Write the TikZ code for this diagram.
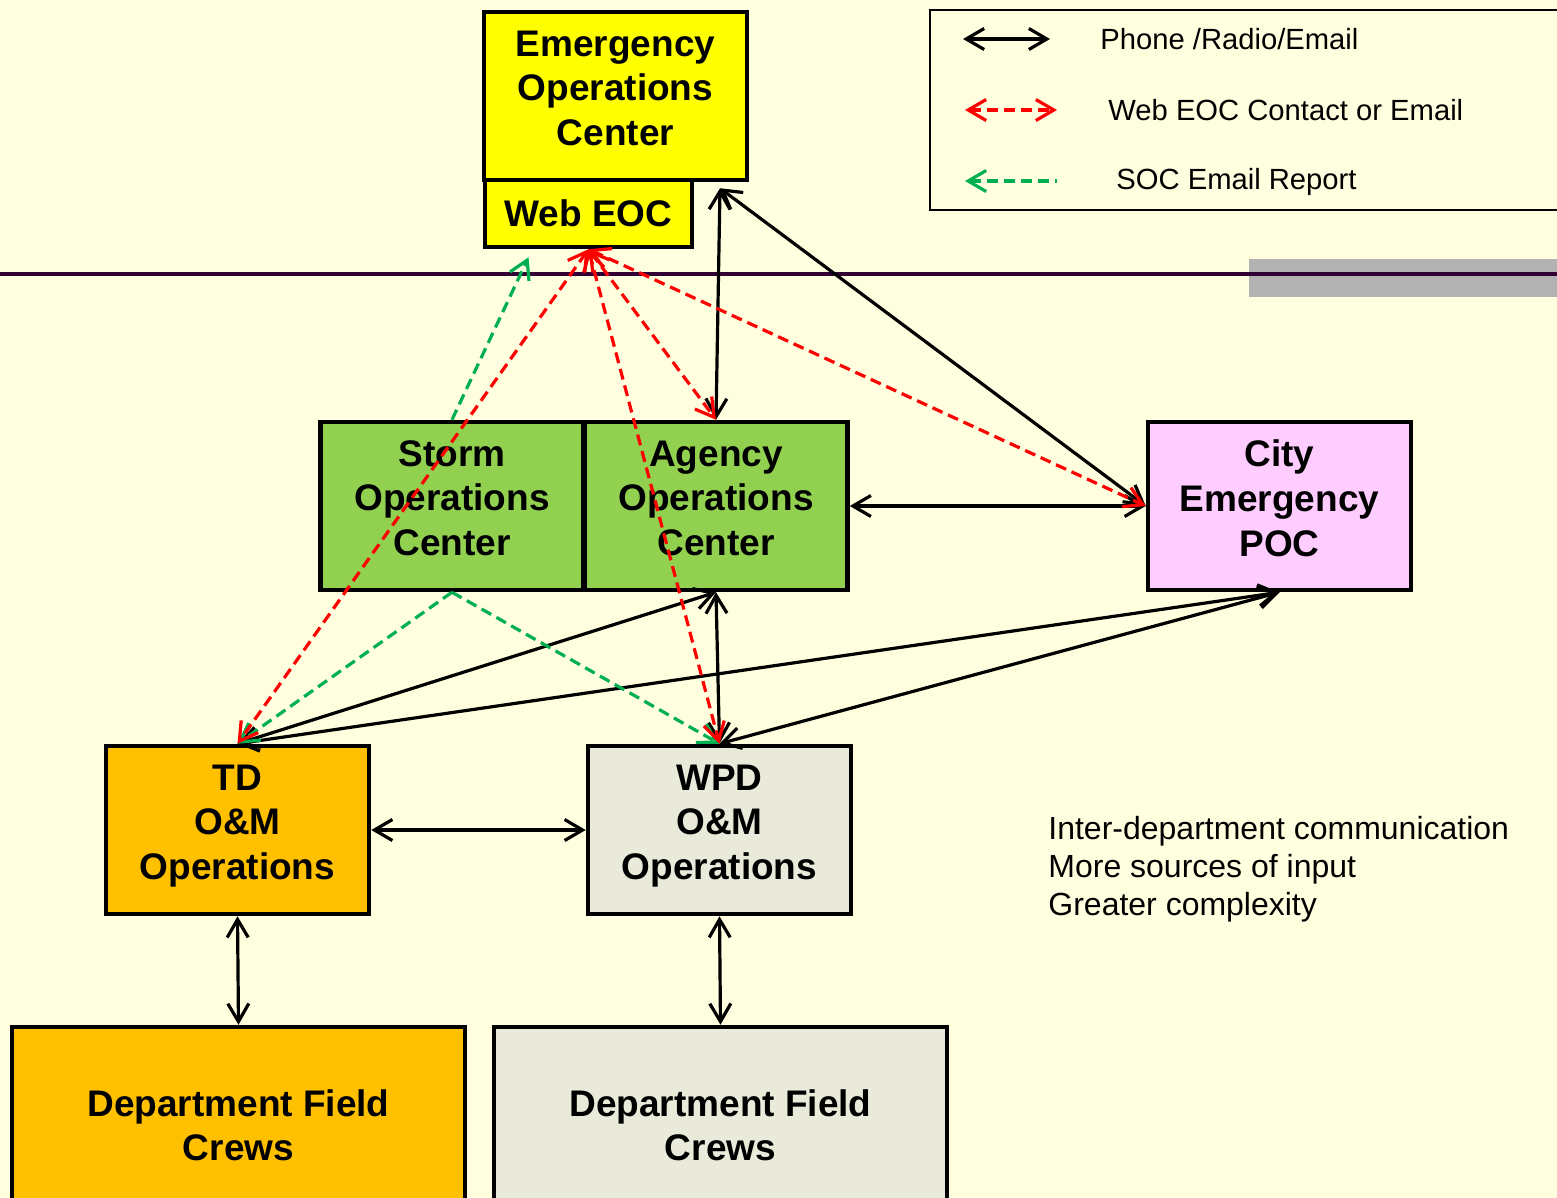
\documentclass[tikz,border=0pt]{standalone}
\usepackage{fontspec}
\setmainfont{Liberation Sans}
\usetikzlibrary{arrows.meta,calc}

\definecolor{bgyellow}{HTML}{FFFFE0}
\definecolor{eocyellow}{HTML}{FFFF00}
\definecolor{opsgreen}{HTML}{92D050}
\definecolor{citypink}{HTML}{FFCCFF}
\definecolor{tdorange}{HTML}{FFC000}
\definecolor{wpdgrey}{HTML}{EAEADA}
\definecolor{webred}{HTML}{FF0000}
\definecolor{socgreen}{HTML}{00B050}
\definecolor{rulepurple}{HTML}{330033}
\definecolor{bargrey}{HTML}{B2B2B2}

\tikzset{
  unit/.style={draw=black, line width=2.25pt, align=center, inner sep=0pt,
    minimum width=131.5pt, minimum height=84pt, text depth=8pt,
    font=\fontsize{18.5}{22.3}\selectfont\bfseries},
  crews/.style={unit, minimum width=226.5pt, minimum height=106pt},
  phone/.style={draw=black, line width=1.6pt},
  webeoc/.style={draw=webred, line width=1.6pt, dash pattern=on 5.5pt off 3pt},
  socreport/.style={draw=socgreen, line width=1.6pt, dash pattern=on 5.5pt off 3pt},
  legendtext/.style={anchor=west, inner sep=0pt, font=\fontsize{14.6}{17.5}\selectfont}
}

\begin{document}
\begin{tikzpicture}[x=0.5pt, y=-0.5pt, >={Straight Barb[length=9pt,width=10.5pt]}]
  \useasboundingbox (0,0) rectangle (1557,1198);
  \clip (0,0) rectangle (1557,1198);
  \fill[bgyellow] (0,0) rectangle (1557,1198);

  % Separator
  \fill[bargrey] (1249,259) rectangle (1570,297);
  \draw[rulepurple, line width=2pt] (0,274) -- (1570,274);

  % Legend
  \node[draw, line width=0.75pt, minimum width=320pt, minimum height=100pt] (legend) at (1250,110) {};
  \coordinate (lg-phone-a) at (963,39);
  \coordinate (lg-phone-b) at (1050,39);
  \coordinate (lg-web-a) at (965,110);
  \coordinate (lg-web-b) at (1057,110);
  \coordinate (lg-soc-a) at (965,181);
  \coordinate (lg-soc-b) at (1057,181);
  \draw[phone, <->] (lg-phone-a) -- (lg-phone-b);
  \draw[webeoc, <->] (lg-web-a) -- (lg-web-b);
  \draw[socreport, <-] (lg-soc-a) -- (lg-soc-b);
  \node[legendtext] (lg-phone) at (1100,39) {Phone /Radio/Email};
  \node[legendtext] (lg-web) at (1108,110) {Web EOC Contact or Email};
  \node[legendtext] (lg-soc) at (1116,182) {SOC Email Report};

  % Emergency operations
  \node[unit, fill=eocyellow] (EOC) at (615.5,96) {Emergency\\Operations\\Center};
  \node[unit, fill=eocyellow, minimum width=103.5pt, minimum height=33.5pt, text depth=] (WebEOC) at (588.5,213.5) {Web EOC};

  % Operations centers
  \node[unit, fill=opsgreen] (Storm) at (452,506) {Storm\\Operations\\Center};
  \node[unit, fill=opsgreen] (Agency) at (716,506) {Agency\\Operations\\Center};
  \node[unit, fill=citypink] (City) at (1279.5,506) {City\\Emergency\\POC};

  % Departments
  \node[unit, fill=tdorange] (TD) at (237.5,830) {TD\\O\&M\\Operations};
  \node[unit, fill=wpdgrey] (WPD) at (719.5,830) {WPD\\O\&M\\Operations};
  \node[crews, fill=tdorange] (TDcrews) at (238.5,1133) {Department Field\\Crews};
  \node[crews, fill=wpdgrey] (WPDcrews) at (720.5,1133) {Department Field\\Crews};

  % Notes
  \node[anchor=west, align=left, inner sep=0pt, font=\fontsize{16}{19}\selectfont] (notes) at (1048,869)
    {Inter-department communication\\More sources of input\\Greater complexity};

  % Phone / radio / email
  \coordinate (EOC-port) at ($(EOC.south -| Agency.north)+(4,6)$);
  \foreach \a/\b in {EOC-port/Agency.north, EOC-port/City.west, Agency.east/City.west,
                     Agency.south/WPD.north, Agency.south/TD.north, City.south/TD.north,
                     City.south/WPD.north, TD.east/WPD.west, TD.south/TDcrews.north,
                     WPD.south/WPDcrews.north} {
    \draw[phone, <->] (\a) -- (\b);
  }

  % SOC email report
  \coordinate (WebEOC-soc) at ($(WebEOC.south)+(-60,8)$);
  \draw[socreport, ->] (Storm.north) -- (WebEOC-soc);
  \foreach \b in {TD.north, WPD.north} {
    \draw[socreport, ->] (Storm.south) -- (\b);
  }

  % Web EOC contact
  \foreach \b in {TD.north, Agency.north, WPD.north, City.west} {
    \draw[webeoc, <->] (WebEOC.south) -- (\b);
  }
\end{tikzpicture}
\end{document}
